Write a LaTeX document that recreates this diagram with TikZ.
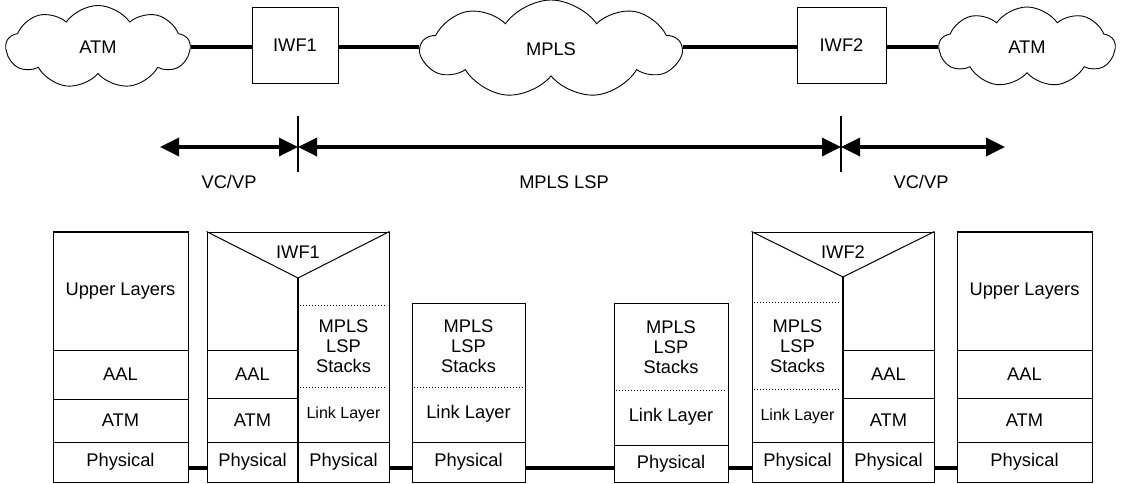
\documentclass[tikz,border=0pt]{standalone}
\usepackage{fontspec}
\setmainfont{Liberation Sans}
\usetikzlibrary{shapes.symbols,arrows.meta}
\newcommand\nfont{\fontsize{18.3}{20}\selectfont}
\newcommand\sfont{\fontsize{16}{18}\selectfont}
\tikzset{
 cell/.style={draw, line width=1pt, inner sep=0pt, align=center, font=\nfont},
 txt/.style={inner sep=0pt, align=center, font=\nfont},
 small/.style={font=\sfont},
 net/.style={cloud, draw, line width=0.9pt, cloud puffs=9, cloud puff arc=110, inner sep=0pt, font=\nfont},
 box/.style={draw, line width=1pt, inner sep=0pt, font=\nfont},
 link/.style={line width=3.5pt},
 span/.style={line width=3.5pt, {Triangle[length=19pt,width=18pt]}-{Triangle[length=19pt,width=18pt]}},
 tick/.style={line width=2.5pt},
 sep/.style={line width=1pt, dash pattern=on 1pt off 2pt},
 mid/.style={line width=2.5pt},
 thin/.style={line width=1pt}
}
% #1 extra style, #2 name, #3 x1, #4 y1, #5 x2, #6 y2, #7 text
\newcommand\Cell[7][]{%
 \node[cell,#1,minimum width={(#5)-(#3)},minimum height={(#6)-(#4)}] (#2) at ({((#3)+(#5))/2},{((#4)+(#6))/2}) {#7};}
\begin{document}
\begin{tikzpicture}[x=1pt,y=-1pt]
\useasboundingbox (0,0) rectangle (1123,483);
% top network
\node[net, minimum width=184, minimum height=83] (atmL) at (98,47) {ATM};
\node[box, minimum width=86, minimum height=76] (iwfA) at (295,45) {IWF1};
\node[net, minimum width=260, minimum height=98] (mpls) at (551,49) {MPLS};
\node[box, minimum width=89, minimum height=76] (iwfB) at (841.5,45) {IWF2};
\node[net, minimum width=176, minimum height=80] (atmR) at (1027,47) {ATM};
\coordinate (top) at (0,47);
\draw[link] (atmL.east |- top) -- (iwfA.west |- top);
\draw[link] (iwfA.east |- top) -- (mpls.west |- top);
\draw[link] (mpls.east |- top) -- (iwfB.west |- top);
\draw[link] (iwfB.east |- top) -- (atmR.west |- top);
% spans
\coordinate (s0) at (160,147);
\coordinate (s1) at (298,147);
\coordinate (s2) at (841,147);
\coordinate (s3) at (1005,147);
\draw[span] (s0) -- (s1);
\draw[span] (s1) -- (s2);
\draw[span] (s2) -- (s3);
\draw[tick] ([yshift=31pt]s1) -- ([yshift=-25pt]s1);
\draw[tick] ([yshift=31pt]s2) -- ([yshift=-25pt]s2);
\node[txt] (l1) at (229,182) {VC/VP};
\node[txt] (l2) at (564,182) {MPLS LSP};
\node[txt] (l3) at (921,182) {VC/VP};
% stack A
\Cell{aUp}{53}{232}{188}{350}{Upper Layers}
\Cell{aAal}{53}{350}{188}{399}{AAL}
\Cell{aAtm}{53}{399}{188}{442}{ATM}
\Cell{aPhy}{53}{442}{188}{482}{Physical}
\draw[line width=2pt] (aUp.north west) -- (aUp.north east);
% stack B (IWF1)
\Cell{bFrame}{207}{232}{389}{482}{}
\coordinate (bV) at (298,278);
\draw[thin] (bFrame.north west) -- (bV) -- (bFrame.north east);
\node[txt] (bLbl) at (298,252) {IWF1};
\Cell{bAal}{207}{350}{298}{398}{AAL}
\Cell{bAtm}{207}{398}{298}{442}{ATM}
\Cell{bPhyL}{207}{442}{298}{482}{Physical}
\Cell{bPhyR}{298}{442}{389}{482}{Physical}
\node[txt] (bMpls) at (343.5,346) {MPLS\\LSP\\Stacks};
\node[txt,small] (bLink) at (343.5,414) {Link Layer};
\draw[sep] (300,305) -- (387,305);
\draw[sep] (300,387) -- (387,387);
\draw[mid] (bV) -- (bV |- bFrame.south);
% stack C
\Cell{cTop}{412}{303}{525}{442}{}
\node[txt] (cMpls) at (468.5,346) {MPLS\\LSP\\Stacks};
\draw[sep] (414,387) -- (523,387);
\node[txt] (cLink) at (468.5,414) {Link Layer};
\Cell{cPhy}{412}{442}{525}{482}{Physical}
% stack D
\Cell{dTop}{614}{303}{728}{445}{}
\node[txt] (dMpls) at (671,347) {MPLS\\LSP\\Stacks};
\draw[sep] (616,390) -- (726,390);
\node[txt] (dLink) at (671,417) {Link Layer};
\Cell{dPhy}{614}{445}{728}{482}{Physical}
% stack E (IWF2)
\Cell{eFrame}{752}{232}{934}{482}{}
\coordinate (eV) at (843,277);
\draw[thin] (eFrame.north west) -- (eV) -- (eFrame.north east);
\node[txt] (eLbl) at (843,252) {IWF2};
\draw[sep] (754,302) -- (841,302);
\draw[sep] (754,389) -- (841,389);
\node[txt] (eMpls) at (797.5,346) {MPLS\\LSP\\Stacks};
\node[txt,small] (eLink) at (797.5,416) {Link Layer};
\Cell{ePhyL}{752}{442}{843}{482}{Physical}
\Cell{eAal}{843}{350}{934}{398}{AAL}
\Cell{eAtm}{843}{398}{934}{442}{ATM}
\Cell{ePhyR}{843}{442}{934}{482}{Physical}
\draw[mid] (eV) -- (eV |- eFrame.south);
% stack F
\Cell{fUp}{957}{232}{1092}{350}{Upper Layers}
\Cell{fAal}{957}{350}{1092}{398}{AAL}
\Cell{fAtm}{957}{398}{1092}{442}{ATM}
\Cell{fPhy}{957}{442}{1092}{482}{Physical}
\draw[line width=2pt] (fUp.north west) -- (fUp.north east);
% physical links
\coordinate (ln) at (0,468);
\draw[link] (aPhy.east |- ln) -- (bPhyL.west |- ln);
\draw[link] (bPhyR.east |- ln) -- (cPhy.west |- ln);
\draw[link] (cPhy.east |- ln) -- (dPhy.west |- ln);
\draw[link] (dPhy.east |- ln) -- (ePhyL.west |- ln);
\draw[link] (ePhyR.east |- ln) -- (fPhy.west |- ln);
\end{tikzpicture}
\end{document}
